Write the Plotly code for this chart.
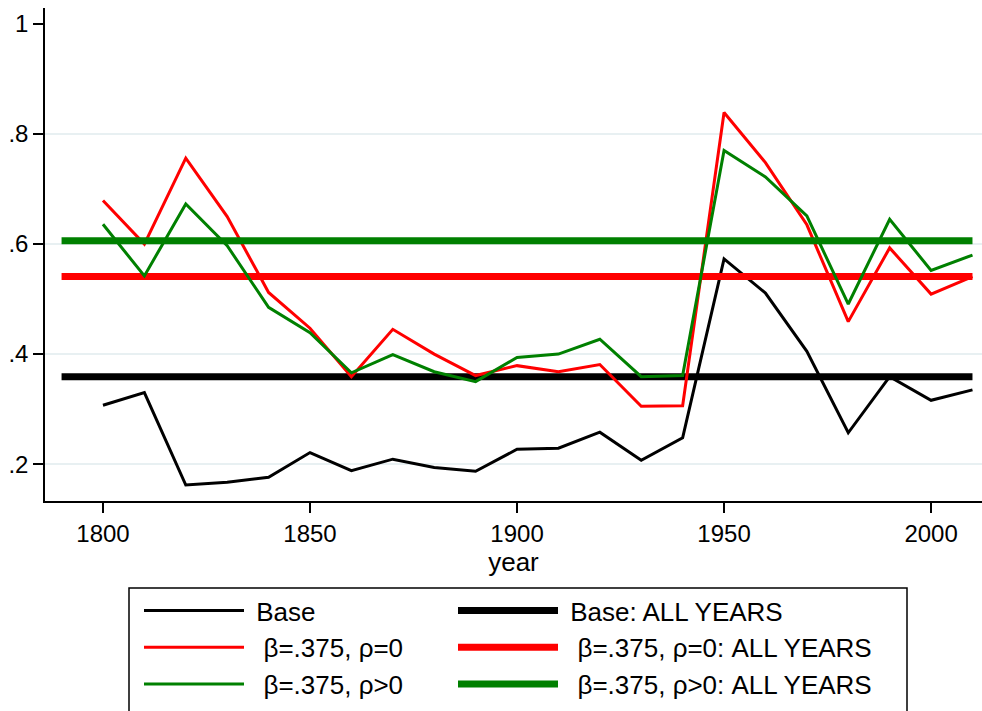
import plotly.graph_objects as go

# Decade observations
years = [1800, 1810, 1820, 1830, 1840, 1850, 1860, 1870, 1880, 1890, 1900,
         1910, 1920, 1930, 1940, 1950, 1960, 1970, 1980, 1990, 2000, 2010]

base = [0.307, 0.330, 0.162, 0.167, 0.176, 0.221, 0.188, 0.209, 0.194, 0.187, 0.227,
        0.229, 0.258, 0.207, 0.248, 0.573, 0.511, 0.405, 0.257, 0.359, 0.316, 0.335]
beta_rho0 = [0.679, 0.600, 0.756, 0.650, 0.512, 0.447, 0.359, 0.445, 0.400, 0.361, 0.379,
             0.368, 0.381, 0.305, 0.306, 0.839, 0.748, 0.635, 0.459, 0.593, 0.509, 0.541]
beta_rhopos = [0.636, 0.542, 0.673, 0.597, 0.485, 0.439, 0.366, 0.399, 0.368, 0.350, 0.394,
               0.400, 0.427, 0.359, 0.361, 0.770, 0.722, 0.651, 0.491, 0.645, 0.552, 0.580]

# Pooled (all years) estimates, drawn across the whole period
all_years_span = [1790, 2010]
base_all = 0.359
beta_rho0_all = 0.541
beta_rhopos_all = 0.606

y_tickvals = [0.2, 0.4, 0.6, 0.8, 1.0]
y_ticktext = [".2", ".4", ".6", ".8", "1"]
y_gridvals = [0.2, 0.4, 0.6, 0.8]
x_tickvals = [1800, 1850, 1900, 1950, 2000]

FONT = "Liberation Sans, Arial, Helvetica, sans-serif"
RED = "#ff0000"
GREEN = "#008000"
BLACK = "#000000"
SP = "\u00a0"   # non-breaking space keeps the gap after the legend sample

# (name, x, y, colour, width, legend column)
series = [
    (SP + "Base", years, base, BLACK, 3, "legend"),
    (SP + "Base: ALL YEARS", all_years_span, [base_all] * 2, BLACK, 7, "legend2"),
    (SP * 2 + "β=.375, ρ=0", years, beta_rho0, RED, 3, "legend"),
    (SP * 2 + "β=.375, ρ=0: ALL YEARS", all_years_span, [beta_rho0_all] * 2, RED, 7, "legend2"),
    (SP * 2 + "β=.375, ρ>0", years, beta_rhopos, GREEN, 3, "legend"),
    (SP * 2 + "β=.375, ρ>0: ALL YEARS", all_years_span, [beta_rhopos_all] * 2, GREEN, 7, "legend2"),
]

fig = go.Figure()
for i, (name, xs, ys, color, width, leg) in enumerate(series):
    fig.add_trace(go.Scatter(
        x=xs, y=ys, name=name, mode="lines",
        line=dict(color=color, width=width),
        legend=leg, legendgroup=f"g{i}",
        hoverinfo="skip",
    ))

legend_style = dict(
    orientation="v",
    xref="container", yref="container",
    yanchor="top", xanchor="left",
    y=1 - 587 / 711,
    borderwidth=0, bgcolor="rgba(0,0,0,0)",
    font=dict(family=FONT, size=26, color="black"),
    itemwidth=100,
    traceorder="normal", tracegroupgap=6,
)

# Plot-area geometry in pixels (used to place the legend frame)
PL, PW, PT, PH = 45, 937, 8, 493

fig.update_layout(
    width=982, height=711,
    margin=dict(l=PL, r=982 - PL - PW, t=PT, b=711 - PT - PH, autoexpand=False),
    paper_bgcolor="white", plot_bgcolor="white",
    font=dict(family=FONT, size=24, color="black"),
    showlegend=True,
    legend=dict(legend_style, x=139 / 982),
    legend2=dict(legend_style, x=453 / 982),
    shapes=[dict(
        type="rect", xref="paper", yref="paper",
        x0=(129 - PL) / PW, x1=(907 - PL) / PW,
        y0=(PT + PH - 588) / PH, y1=(PT + PH - 716) / PH,
        line=dict(color="black", width=1.5), fillcolor="rgba(0,0,0,0)",
        layer="below",
    )],
)

fig.update_xaxes(
    range=[1786.0, 2012.3],
    tickmode="array", tickvals=x_tickvals,
    ticks="outside", ticklen=10, tickwidth=1.5, tickcolor="black",
    showline=True, linecolor="black", linewidth=1.5,
    showgrid=False, zeroline=False,
    tickfont=dict(size=24),
    title=dict(text="year", font=dict(size=26), standoff=6),
)

fig.update_yaxes(
    range=[0.133, 1.029],
    tickmode="array", tickvals=y_tickvals, ticktext=y_ticktext,
    ticks="outside", ticklen=10, tickwidth=1.5, tickcolor="black",
    showline=True, linecolor="black", linewidth=1.5,
    showgrid=False, zeroline=False,
    tickfont=dict(size=24),
    minor=dict(tickmode="array", tickvals=y_gridvals, ticks="",
               showgrid=True, gridcolor="#e8f0f2", gridwidth=2),
)

fig.write_html("out.html")
